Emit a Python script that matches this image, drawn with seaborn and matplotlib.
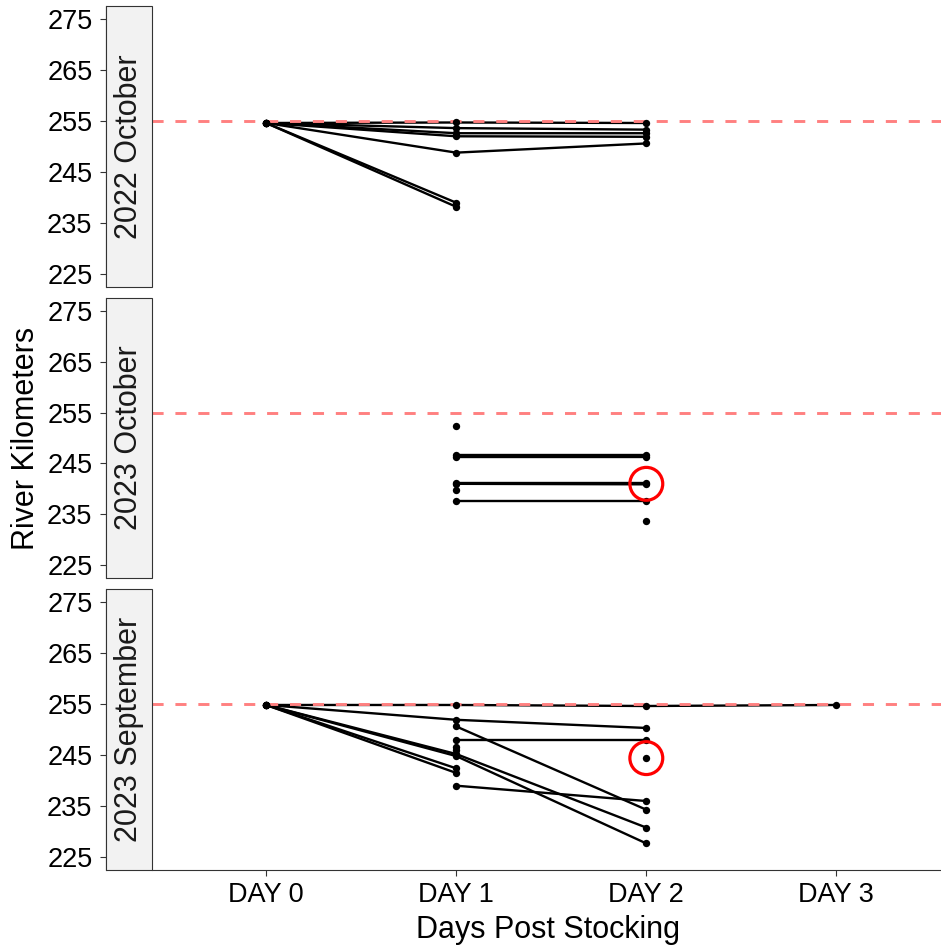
import matplotlib
matplotlib.use("Agg")
import matplotlib.pyplot as plt
from matplotlib.patches import Rectangle
import seaborn as sns
import pandas as pd

# ---------------- data ----------------
panel_names = ["2022 October", "2023 October", "2023 September"]
day_labels = ["DAY 0", "DAY 1", "DAY 2", "DAY 3"]

oct22_fish = [1, 1, 1, 2, 2, 2, 3, 3, 3, 4, 4, 4, 5, 5, 5, 6, 6, 7, 7]
oct22_day = [0, 1, 2, 0, 1, 2, 0, 1, 2, 0, 1, 2, 0, 1, 2, 0, 1, 0, 1]
oct22_rkm = [254.6, 254.7, 254.6, 254.6, 253.6, 253.3, 254.6, 252.6, 252.6,
             254.6, 252.0, 251.9, 254.6, 248.8, 250.6, 254.6, 239.0, 254.6, 238.2]

oct23_fish = [1, 2, 2, 3, 3, 4, 4, 5, 5, 6, 7, 7, 8]
oct23_day = [1, 1, 2, 1, 2, 1, 2, 1, 2, 1, 1, 2, 2]
oct23_rkm = [252.4, 246.7, 246.7, 246.3, 246.3, 241.2, 241.2, 241.0, 240.9,
             239.8, 237.7, 237.7, 233.6]

sep23_fish = [1, 1, 1, 1, 2, 2, 2, 3, 3, 4, 4, 5, 5, 5, 6, 6, 6, 7, 7, 8, 8,
              9, 9, 10, 11, 12]
sep23_day = [0, 1, 2, 3, 0, 1, 2, 1, 2, 1, 2, 0, 1, 2, 0, 1, 2, 0, 1, 0, 1,
             1, 2, 2, 1, 1]
sep23_rkm = [254.8, 254.8, 254.6, 254.8, 254.8, 251.9, 250.3, 250.6, 234.3,
             248.0, 248.0, 254.8, 245.2, 230.8, 254.8, 244.8, 227.7, 254.8, 242.4,
             254.8, 241.5, 239.0, 236.0, 244.4, 246.6, 246.0]

ref_rkm = 255
circle_panel = ["2023 October", "2023 September"]
circle_day = [2, 2]
circle_rkm = [241.0, 244.4]

y_ticks = [225, 235, 245, 255, 265, 275]

frames = []
for name, f, d, r in [(panel_names[0], oct22_fish, oct22_day, oct22_rkm),
                      (panel_names[1], oct23_fish, oct23_day, oct23_rkm),
                      (panel_names[2], sep23_fish, sep23_day, sep23_rkm)]:
    frames.append(pd.DataFrame({"panel": name, "fish": f, "day": d, "rkm": r}))
df = pd.concat(frames, ignore_index=True)
circ = pd.DataFrame({"panel": circle_panel, "day": circle_day, "rkm": circle_rkm})

# ---------------- style ----------------
sns.set_theme(style="white")
plt.rcParams["font.family"] = ["Liberation Sans", "DejaVu Sans"]
plt.rcParams["lines.scale_dashes"] = False

W, H = 941, 947
fig = plt.figure(figsize=(W / 100, H / 100), dpi=100)

panel_px = [(6, 287), (298, 578), (589, 870)]
left_px, right_px = 152, 941
strip_w = 46
px2pt = 0.72

for i, name in enumerate(panel_names):
    top, bot = panel_px[i]
    ax = fig.add_axes([left_px / W, 1 - bot / H, (right_px - left_px) / W, (bot - top) / H])
    ax.spines["left"].set_position(("outward", strip_w * px2pt))
    sub = df[df["panel"] == name]
    sns.lineplot(data=sub, x="day", y="rkm", units="fish", estimator=None,
                 color="black", linewidth=1.7, ax=ax, zorder=2, legend=False)
    ax.axhline(ref_rkm, color="#FF8080", linewidth=2.1, dashes=(8, 8.5), zorder=2.5)
    sns.scatterplot(data=sub, x="day", y="rkm", color="black", s=28,
                    linewidth=0, ax=ax, zorder=3, legend=False)
    csub = circ[circ["panel"] == name]
    if len(csub):
        sns.scatterplot(data=csub, x="day", y="rkm", marker="o", s=560,
                        facecolor="none", edgecolor="red", linewidth=2.3,
                        ax=ax, zorder=4, legend=False)

    ax.set_xlim(-0.6, 3.55)
    ax.set_ylim(222.5, 277.5)
    ax.set_yticks(y_ticks)
    ax.set_yticklabels([str(t) for t in y_ticks])
    ax.set_xlabel("")
    ax.set_ylabel("")
    ax.grid(False)
    for s in ["top", "right"]:
        ax.spines[s].set_visible(False)
    ax.spines["left"].set_color("#333333")
    ax.spines["left"].set_linewidth(0.8)
    ax.tick_params(axis="y", which="both", left=True, length=4.3, width=0.8,
                   color="#333333", pad=5.5, labelsize=19.5, labelcolor="black")
    if i < 2:
        ax.spines["bottom"].set_visible(False)
        ax.set_xticks([])
    else:
        ax.spines["bottom"].set_color("#333333")
        ax.spines["bottom"].set_linewidth(0.8)
        ax.set_xticks(range(len(day_labels)))
        ax.set_xticklabels(day_labels)
        ax.tick_params(axis="x", which="both", bottom=True, length=4.3, width=0.8,
                       color="#333333", pad=4, labelsize=19.5, labelcolor="black")
    ax.patch.set_alpha(0)

    # strip on the left
    rect = Rectangle(((left_px - strip_w) / W, 1 - bot / H), strip_w / W, (bot - top) / H,
                     transform=fig.transFigure, facecolor="#F2F2F2",
                     edgecolor="#333333", linewidth=0.8, zorder=5)
    fig.patches.append(rect)
    fig.text((left_px - strip_w / 2) / W, 1 - ((top + bot) / 2) / H, name,
             rotation=90, ha="center", va="center", fontsize=22, color="#1A1A1A",
             zorder=6)

fig.text(26 / W, 1 - 438 / H, "River Kilometers", rotation=90, ha="center",
         va="center", fontsize=22, color="black")
fig.text(548 / W, 1 - 930 / H, "Days Post Stocking", ha="center", va="center",
         fontsize=22, color="black")

fig.savefig("out.png", dpi=100)
